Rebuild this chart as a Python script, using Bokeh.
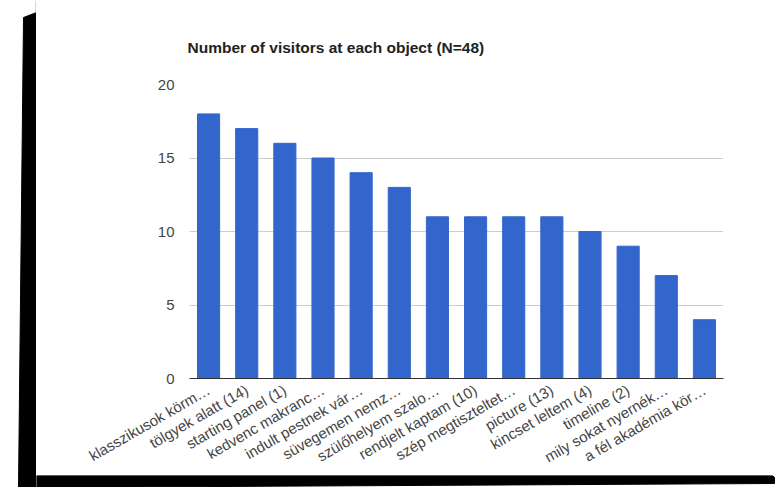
from bokeh.plotting import figure
from bokeh.layouts import row, column
from bokeh.models import FactorRange, Range1d, FixedTicker
from bokeh.embed import file_html
from bokeh.resources import INLINE
import math

# ---- data ----
objects = [
    "klasszikusok körm…",
    "tölgyek alatt (14)",
    "starting panel (1)",
    "kedvenc makranc…",
    "indult pestnek vár…",
    "süvegemen nemz…",
    "szülőhelyem szalo…",
    "rendjelt kaptam (10)",
    "szép megtiszteltet…",
    "picture (13)",
    "kincset leltem (4)",
    "timeline (2)",
    "mily sokat nyernék…",
    "a fél akadémia kör…",
]
visitors = [18, 17, 16, 15, 14, 13, 11, 11, 11, 11, 10, 9, 7, 4]
y_ticks = [0, 5, 10, 15, 20]
title_text = "Number of visitors at each object (N=48)"

FONT = "Liberation Sans"
W, H = 779, 487
LEFT_W = 36      # width of the left black-shadow strip
BOTTOM_H = 12    # height of the bottom black-shadow strip

# ---- main chart ----
p = figure(
    width=W - LEFT_W, height=H - BOTTOM_H,
    x_range=FactorRange(*objects, range_padding=0),
    y_range=Range1d(0, 20),
    output_backend="svg", toolbar_location=None,
    min_border_left=189 - LEFT_W, min_border_right=56,
    min_border_top=84, min_border_bottom=92,
    title=title_text,
)
p.frame_align = False
p.outline_line_color = None
p.background_fill_color = "white"
p.border_fill_color = "white"

p.title.text_font = FONT
p.title.text_font_size = "15.5px"
p.title.text_font_style = "bold"
p.title.text_color = "#222222"
p.title.align = "left"
p.title.offset = -2
p.title.standoff = 57

p.vbar(x=objects, top=visitors, width=0.58, color="#3366CC")

p.yaxis.ticker = FixedTicker(ticks=y_ticks)
p.yaxis.axis_line_color = None
p.yaxis.major_tick_line_color = None
p.yaxis.minor_tick_line_color = None
p.yaxis.major_label_standoff = 9
p.yaxis.major_label_text_font = FONT
p.yaxis.major_label_text_font_size = "15px"
p.yaxis.major_label_text_color = "#444444"

p.xaxis.axis_line_color = "#333333"
p.xaxis.axis_line_width = 1
p.xaxis.major_tick_line_color = None
p.xaxis.minor_tick_line_color = None
p.xaxis.major_label_orientation = math.pi / 6
p.xaxis.major_label_standoff = 4
p.xaxis.major_label_text_font = FONT
p.xaxis.major_label_text_font_size = "15px"
p.xaxis.major_label_text_color = "#444444"

p.xgrid.grid_line_color = None
p.ygrid.ticker = FixedTicker(ticks=y_ticks)
p.ygrid.grid_line_color = "#cccccc"


def strip(w, h, x0, x1, y0, y1):
    f = figure(
        width=w, height=h,
        x_range=Range1d(x0, x1), y_range=Range1d(y1, y0),
        output_backend="svg", toolbar_location=None,
        x_axis_location=None, y_axis_location=None,
        min_border=0,
    )
    f.frame_align = False
    f.min_border_left = f.min_border_right = f.min_border_top = f.min_border_bottom = 0
    f.outline_line_color = None
    f.xgrid.grid_line_color = None
    f.ygrid.grid_line_color = None
    f.background_fill_color = "white"
    f.border_fill_color = "white"
    return f


# left shadow strip (page pixel coordinates)
left = strip(LEFT_W, H, 0, LEFT_W, 0, H)
left.patch([23, 36, 36, 18], [17, 12, H, H], color="black")
left.line([35.5, 35.5], [0, 12], line_color="#aaaaaa", line_width=1)

# bottom shadow strip (page pixel coordinates)
y_top = H - BOTTOM_H
bottom = strip(W - LEFT_W, BOTTOM_H, LEFT_W, W, y_top, H)
bottom.patch([LEFT_W, 772, 774, 774, LEFT_W],
             [y_top, y_top, y_top + 2, 483, H], color="black")

layout = row(left, column(p, bottom, spacing=0), spacing=0)

open("out.html", "w").write(file_html(layout, INLINE))
